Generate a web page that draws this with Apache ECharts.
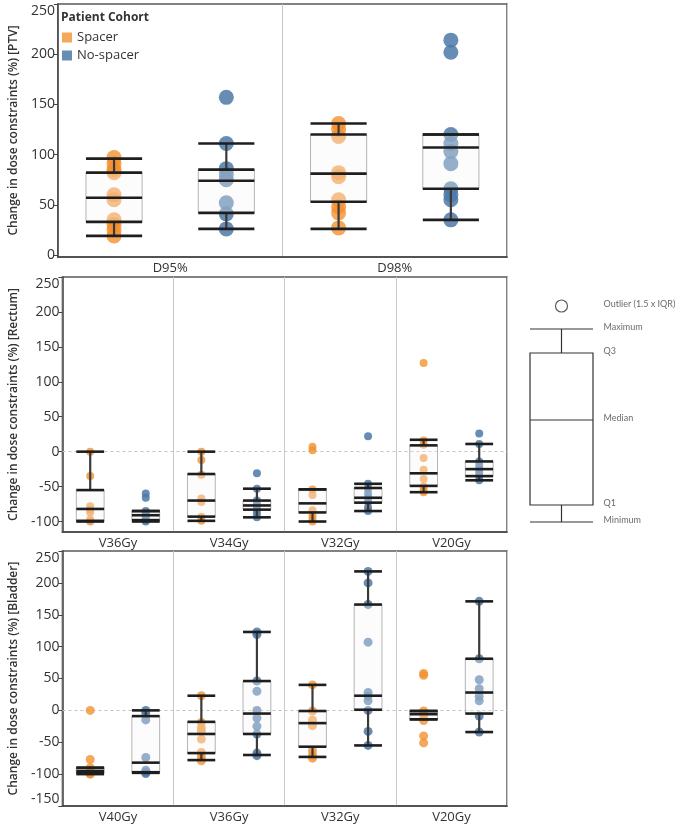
<!DOCTYPE html>
<html><head><meta charset="utf-8">
<script src="https://cdn.jsdelivr.net/npm/echarts@6/dist/echarts.min.js"></script>
<style>html,body{margin:0;padding:0;background:#fff}#c{width:679px;height:826px}</style>
</head><body><div id="c"></div><script>
// ---------- DATA ----------
// box stats: [min, Q1, median, Q3, max]
const ptvCats = ['D95%', 'D98%'];
const ptvSpacerBox = [[19, 33, 57, 82, 96], [26, 53, 81, 120, 131]];
const ptvNoSpacerBox = [[26, 42, 74, 85, 111], [35, 66, 107, 120, 120]];
const ptvSpacerPts = [[97, 91, 85, 82, 60, 55, 35, 30, 25, 19], [131, 125, 118, 82, 78, 55, 48, 42, 27]];
const ptvNoSpacerPts = [[157, 111, 86, 80, 75, 52, 41, 26], [214, 202, 120, 111, 103, 91, 66, 60, 55, 35]];

const rectumCats = ['V36Gy', 'V34Gy', 'V32Gy', 'V20Gy'];
const rectumSpacerBox = [[-100, -99, -82, -55, 0], [-99, -93, -70, -32, 0], [-100, -87, -74, -54, -54], [-58, -49, -31, 9, 17]];
const rectumNoSpacerBox = [[-100, -98, -91, -85, -85], [-94, -83, -77, -70, -53], [-85, -73, -66, -52, -46], [-41, -35, -25, -14, 11]];
const rectumSpacerPts = [[0, -35, -78, -83, -87, -97, -100], [0, -12, -33, -67, -72, -93, -99], [7, 2, -54, -62, -84, -91, -96, -100], [127, 16, 10, -9, -26, -39, -50, -55, -58]];
const rectumNoSpacerPts = [[-60, -66, -85, -88, -91, -94, -98, -100], [-31, -53, -70, -75, -79, -83, -88, -94], [22, -46, -53, -60, -66, -72, -80, -85], [26, 11, -14, -20, -25, -30, -35, -41]];

const bladderCats = ['V40Gy', 'V36Gy', 'V32Gy', 'V20Gy'];
const bladderSpacerBox = [[-100, -98, -95, -90, -90], [-78, -67, -37, -18, 23], [-73, -57, -20, -1, 40], [-14, -14, -6, -1, -1]];
const bladderNoSpacerBox = [[-98, -97, -82, -9, 0], [-70, -37, -5, 46, 123], [-55, 1, 23, 166, 218], [-34, -5, 28, 81, 171]];
const bladderSpacerPts = [[0, -77, -90, -95, -99, -100], [23, -19, -27, -32, -45, -66, -73, -79], [40, -1, -15, -24, -63, -70, -75], [58, 55, -1, -9, -16, -40, -51]];
const bladderNoSpacerPts = [[0, -4, -15, -74, -94, -97, -99], [123, 119, 46, 30, 0, -12, -25, -37, -67, -71], [218, 200, 166, 107, 28, 22, 15, 0, -33, -55], [171, 81, 48, 34, 22, 15, -9, -34]];

const ptvTicks = [0, 50, 100, 150, 200, 250];
const rectumTicks = [-100, -50, 0, 50, 100, 150, 200, 250];
const bladderTicks = [-150, -100, -50, 0, 50, 100, 150, 200, 250];

// explanatory key (schematic)
const keyBox = [0, 17, 102, 169, 193];
const keyOutlier = 216;
const keyLabels = ['Outlier (1.5 x IQR)', 'Maximum', 'Q3', 'Median', 'Q1', 'Minimum'];

// ---------- STYLE ----------
const ORANGE = '#F28E2B', BLUE = '#4E79A7';
const FONT = 'Open Sans';
const chart = echarts.init(document.getElementById('c'));

function fillRender(params, api) {
  const x = api.value(0);
  const bw = api.size([1, 0])[0] * 0.5;
  const c = api.coord([x, api.value(3)])[0];
  const yQ1 = api.coord([x, api.value(2)])[1];
  const yQ3 = api.coord([x, api.value(4)])[1];
  return { type: 'rect', shape: { x: c - bw / 2, y: yQ3, width: bw, height: yQ1 - yQ3 },
    style: { fill: 'rgba(246,246,246,0.32)', stroke: '#b4b4b4', lineWidth: 1 } };
}
function makeLineRender(hw, vw) {
  return function (params, api) {
    const x = api.value(0);
    const bw = api.size([1, 0])[0] * 0.5;
    const c = api.coord([x, api.value(3)])[0];
    const y = i => api.coord([x, api.value(i)])[1];
    const l = c - bw / 2, r = c + bw / 2;
    const hl = yy => ({ type: 'line', shape: { x1: l, y1: yy, x2: r, y2: yy }, style: { stroke: '#1e1e1e', lineWidth: hw } });
    const vl = (a, b) => ({ type: 'line', shape: { x1: c, y1: a, x2: c, y2: b }, style: { stroke: '#3a3a3a', lineWidth: vw } });
    return { type: 'group', children: [vl(y(4), y(5)), vl(y(2), y(1)), hl(y(1)), hl(y(2)), hl(y(3)), hl(y(4)), hl(y(5))] };
  };
}

const grids = [], xAxes = [], yAxes = [], series = [];
function addPanel(g, cfg) {
  grids.push({ left: 52, width: 455, top: cfg.top, height: cfg.height, show: true,
    borderColor: '#5a5a5a', borderWidth: 1.5, backgroundColor: 'transparent' });
  const subIdx = xAxes.length;
  const sub = [];
  cfg.cats.forEach(c => { sub.push(c + ' S'); sub.push(c + ' N'); });
  xAxes.push({ type: 'category', gridIndex: g, data: sub, show: false, position: 'top' });
  xAxes.push({ type: 'category', gridIndex: g, data: cfg.cats, position: 'bottom',
    axisLine: { show: true, lineStyle: { color: '#444', width: 1.5 } }, axisTick: { show: false },
    axisLabel: { fontSize: 13, color: '#333', margin: 5, fontFamily: FONT },
    splitLine: { show: true, lineStyle: { color: '#c8c8c8', width: 1 } } });
  yAxes.push({ type: 'value', gridIndex: g, min: cfg.min, max: cfg.max,
    axisLine: { show: true, lineStyle: { color: '#444', width: 1.5 } },
    axisTick: { show: true, length: 4, customValues: cfg.ticks, lineStyle: { color: '#444' } },
    axisLabel: { customValues: cfg.ticks, fontSize: 14, color: '#333', margin: 3, fontFamily: FONT,
      verticalAlignMaxLabel: 'top', verticalAlignMinLabel: cfg.minAlign },
    splitLine: { show: false },
    name: cfg.name, nameLocation: 'middle', nameGap: 35,
    nameTextStyle: { fontSize: 12, fontWeight: 600, color: '#333', fontFamily: FONT } });
  const yi = yAxes.length - 1;
  const sp = [], ns = [], boxes = [];
  cfg.cats.forEach((c, i) => {
    cfg.spPts[i].forEach(v => sp.push([2 * i, v]));
    cfg.nsPts[i].forEach(v => ns.push([2 * i + 1, v]));
    boxes.push([2 * i].concat(cfg.spBox[i]));
    boxes.push([2 * i + 1].concat(cfg.nsBox[i]));
  });
  series.push({ type: 'scatter', name: 'Spacer', xAxisIndex: subIdx, yAxisIndex: yi, data: sp,
    symbolSize: cfg.sym, itemStyle: { color: ORANGE, opacity: 0.78 }, z: 2, silent: true });
  series.push({ type: 'scatter', name: 'No-spacer', xAxisIndex: subIdx, yAxisIndex: yi, data: ns,
    symbolSize: cfg.sym, itemStyle: { color: BLUE, opacity: 0.85 }, z: 2, silent: true });
  const fill = { type: 'custom', xAxisIndex: subIdx, yAxisIndex: yi, data: boxes, renderItem: fillRender,
    encode: { x: 0, y: [1, 2, 3, 4, 5] }, z: 3, silent: true };
  if (cfg.zero) {
    fill.markLine = { silent: true, symbol: 'none', label: { show: false }, z: 1,
      lineStyle: { color: '#c4c4c4', type: [3, 3], width: 1 }, data: [{ yAxis: 0 }] };
  }
  series.push(fill);
  series.push({ type: 'custom', xAxisIndex: subIdx, yAxisIndex: yi, data: boxes, renderItem: makeLineRender(2.6, 2.2),
    encode: { x: 0, y: [1, 2, 3, 4, 5] }, z: 4, silent: true });
}

addPanel(0, { top: 4, height: 253, min: -2, max: 250, ticks: ptvTicks, cats: ptvCats,
  spBox: ptvSpacerBox, nsBox: ptvNoSpacerBox, spPts: ptvSpacerPts, nsPts: ptvNoSpacerPts, sym: 15,
  name: 'Change in dose constraints (%) [PTV]', zero: false, minAlign: 'middle' });
addPanel(1, { top: 277, height: 255, min: -115, max: 250, ticks: rectumTicks, cats: rectumCats,
  spBox: rectumSpacerBox, nsBox: rectumNoSpacerBox, spPts: rectumSpacerPts, nsPts: rectumNoSpacerPts, sym: 8,
  name: 'Change in dose constraints (%) [Rectum]', zero: true, minAlign: 'middle' });
addPanel(2, { top: 551, height: 255, min: -150, max: 250, ticks: bladderTicks, cats: bladderCats,
  spBox: bladderSpacerBox, nsBox: bladderNoSpacerBox, spPts: bladderSpacerPts, nsPts: bladderNoSpacerPts, sym: 9,
  name: 'Change in dose constraints (%) [Bladder]', zero: true, minAlign: 'bottom' });

// key panel
grids.push({ left: 530, width: 63, top: 306, height: 216, show: false });
const kx = xAxes.length;
xAxes.push({ type: 'category', gridIndex: 3, data: ['key'], show: false });
yAxes.push({ type: 'value', gridIndex: 3, min: 0, max: keyOutlier, show: false });
const ky = yAxes.length - 1;
series.push({ type: 'custom', xAxisIndex: kx, yAxisIndex: ky, silent: true, data: [[0].concat(keyBox)],
  encode: { x: 0, y: [1, 2, 3, 4, 5] },
  renderItem: function (params, api) {
    const x = api.value(0);
    const bw = api.size([1, 0])[0];
    const c = api.coord([x, api.value(3)])[0];
    const y = i => api.coord([x, api.value(i)])[1];
    const l = c - bw / 2, r = c + bw / 2;
    const st = { stroke: '#333', lineWidth: 1.2 };
    const hl = yy => ({ type: 'line', shape: { x1: l, y1: yy, x2: r, y2: yy }, style: st });
    const vl = (a, b) => ({ type: 'line', shape: { x1: c, y1: a, x2: c, y2: b }, style: st });
    return { type: 'group', children: [
      { type: 'rect', shape: { x: l, y: y(4), width: bw, height: y(2) - y(4) }, style: { fill: '#fff', stroke: '#333', lineWidth: 1.2 } },
      vl(y(4), y(5)), vl(y(2), y(1)), hl(y(1)), hl(y(3)), hl(y(5))] };
  } });
series.push({ type: 'scatter', xAxisIndex: kx, yAxisIndex: ky, silent: true, data: [[0, keyOutlier]],
  symbol: 'circle', symbolSize: 12, itemStyle: { color: '#fff', borderColor: '#333', borderWidth: 1.2 } });
const keyVals = [keyOutlier, keyBox[4], keyBox[3], keyBox[2], keyBox[1], keyBox[0]];
series.push({ type: 'scatter', xAxisIndex: kx, yAxisIndex: ky, silent: true,
  data: keyVals.map((v, i) => [0, v, keyLabels[i]]), symbolSize: 0,
  itemStyle: { color: 'transparent' },
  label: { show: true, position: 'right', distance: 42, formatter: p => p.data[2], fontSize: 9, color: '#444', fontFamily: 'Lato', offset: [0, -2] } });

chart.setOption({
  animation: false,
  backgroundColor: '#fff',
  title: { text: 'Patient Cohort', left: 56, top: 7, textStyle: { fontSize: 12, fontWeight: 'bold', color: '#333', fontFamily: FONT } },
  legend: { data: ['Spacer', 'No-spacer'], orient: 'vertical', left: 57, top: 26, icon: 'rect',
    itemWidth: 10, itemHeight: 10, itemGap: 5, textStyle: { fontSize: 13, color: '#333', fontFamily: FONT } },
  grid: grids, xAxis: xAxes, yAxis: yAxes, series: series
});
</script></body></html>
